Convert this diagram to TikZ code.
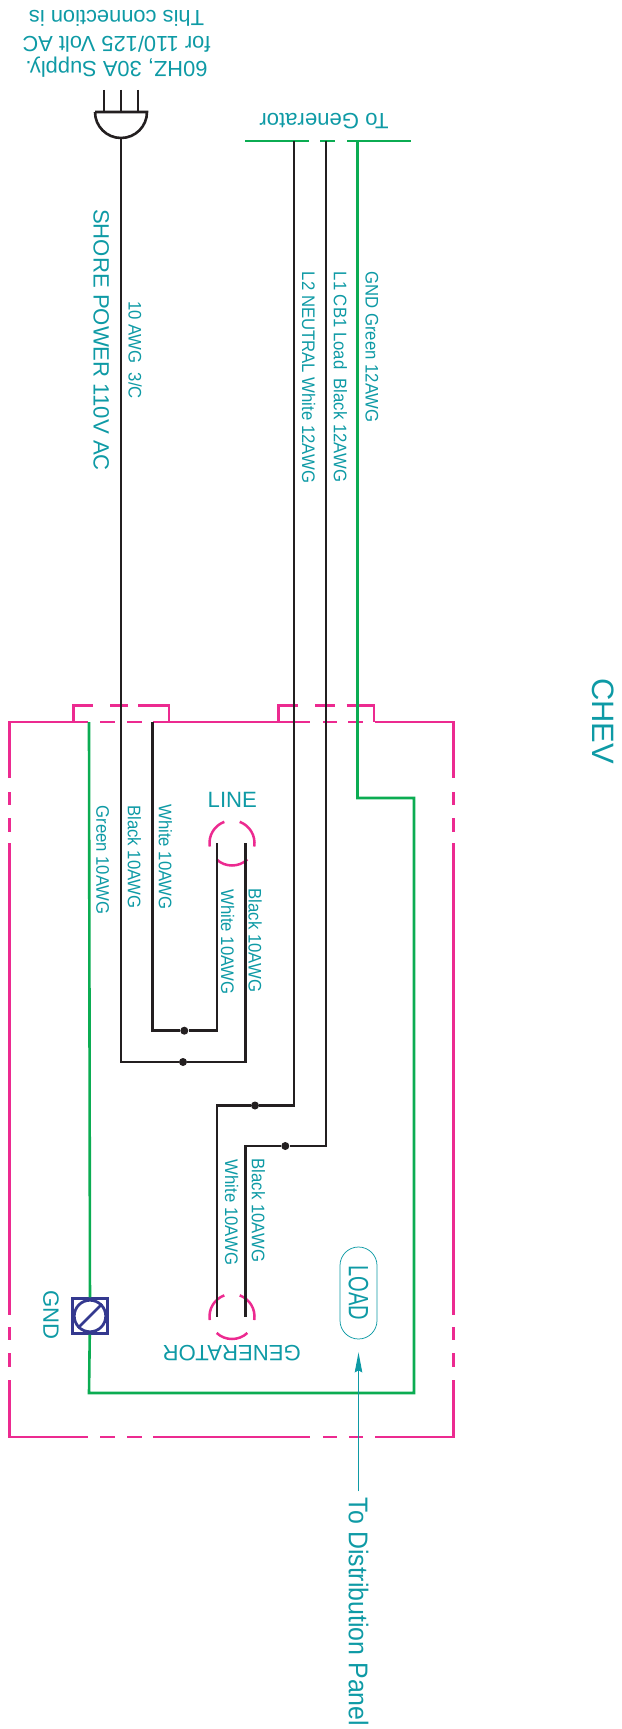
\documentclass[tikz,border=0pt]{standalone}
\usepackage{fontspec}
\setmainfont{Liberation Sans}
\newfontfamily\narrowfont[FakeStretch=0.92]{Liberation Sans}
\newfontfamily\tightfont[FakeStretch=0.72]{Liberation Sans}
\usetikzlibrary{arrows.meta}
\definecolor{wireblack}{HTML}{231F20}
\definecolor{wiregreen}{HTML}{0BAC52}
\definecolor{boxpink}{HTML}{EC2A90}
\definecolor{labelteal}{HTML}{0E9AA5}
\definecolor{screwblue}{HTML}{34398F}
\tikzset{
 blackwire/.style={line width=0.52mm,wireblack},
 greenwire/.style={line width=0.52mm,wiregreen},
 boxline/.style={line width=0.5mm,boxpink},
 joint/.style={circle,fill=wireblack,inner sep=0pt,minimum size=1.6mm},
 biglabel/.style={text=labelteal,inner sep=0pt,font=\fontsize{12.6pt}{14.5pt}\selectfont},
 wirelabel/.style={text=labelteal,inner sep=0pt,rotate=-90,font=\narrowfont\fontsize{10.35pt}{12pt}\selectfont},
}
\begin{document}
\begin{tikzpicture}[x=0.2mm,y=0.2mm,yscale=-1]
 \useasboundingbox (0,0) rectangle (621,1729);
 % shore plug
 \coordinate (plugleft) at (95,112);
 \coordinate (plugright) at (147,112);
 \coordinate (plugtail) at (121,138);
 \draw[blackwire](104,90)--(104,112);
 \draw[blackwire](121,90)--(121,112);
 \draw[blackwire](138,90)--(138,112);
 \draw[blackwire](plugleft)--(plugright) arc (0:180:26);
 % feed from generator
 \coordinate (feedN) at (294,141);
 \coordinate (feedL) at (326,141);
 \coordinate (feedG) at (357.5,141);
 \draw[greenwire](245,141)--(309,141);
 \draw[greenwire](320,141)--(335,141);
 \draw[greenwire](347,141)--(411,141);
 % panel outline
 \draw[boxline](9.5,778)--(9.5,722)--(88,722);
 \draw[boxline](100,722)--(115,722);
 \draw[boxline](127,722)--(142,722);
 \draw[boxline](153,722)--(310,722);
 \draw[boxline](323,722)--(337,722);
 \draw[boxline](348,722)--(363,722);
 \draw[boxline](375,722)--(453.5,722)--(453.5,778);
 \draw[boxline](73.3,722)--(73.3,705.3)--(93.3,705.3);
 \draw[boxline](110,705.3)--(128.3,705.3);
 \draw[boxline](138.3,705.3)--(169,705.3)--(169,722);
 \draw[boxline](278.3,722)--(278.3,705.3)--(298,705.3);
 \draw[boxline](315,705.3)--(335,705.3);
 \draw[boxline](346.7,705.3)--(374,705.3)--(374,722);
 \draw[boxline](9.5,792)--(9.5,805);
 \draw[boxline](9.5,818)--(9.5,832);
 \draw[boxline](9.5,843)--(9.5,1315);
 \draw[boxline](9.5,1327)--(9.5,1340);
 \draw[boxline](9.5,1353)--(9.5,1367);
 \draw[boxline](453.5,792)--(453.5,805);
 \draw[boxline](453.5,818)--(453.5,832);
 \draw[boxline](453.5,843)--(453.5,1315);
 \draw[boxline](453.5,1327)--(453.5,1340);
 \draw[boxline](453.5,1353)--(453.5,1367);
 \draw[boxline](9.5,1380)--(9.5,1437)--(88,1437);
 \draw[boxline](100,1437)--(115,1437);
 \draw[boxline](127,1437)--(142,1437);
 \draw[boxline](153,1437)--(310,1437);
 \draw[boxline](323,1437)--(337,1437);
 \draw[boxline](349,1437)--(363,1437);
 \draw[boxline](375,1437)--(453.5,1437)--(453.5,1380);
 % receptacles
 \coordinate (lineport) at (232,843);
 \coordinate (genport) at (232,1316.5);
 \draw[boxline](lineport) ++(171:22.5) arc (171:250:22.5);
 \draw[boxline](lineport) ++(290:22.5) arc (290:369:22.5);
 \draw[boxline](lineport) ++(47:22.5) arc (47:133:22.5);
 \draw[boxline](genport) ++(171:22.5) arc (171:250:22.5);
 \draw[boxline](genport) ++(290:22.5) arc (290:369:22.5);
 \draw[boxline](genport) ++(47:22.5) arc (47:133:22.5);
 \coordinate (lineW) at (217,843);
 \coordinate (lineB) at (245.7,843);
 \coordinate (genW) at (217,1317);
 \coordinate (genB) at (245.3,1317);
 % wiring
 \node[joint] (jointW) at (184.3,1030.7) {};
 \node[joint] (jointB) at (183,1062) {};
 \node[joint] (jointN) at (255,1105.5) {};
 \node[joint] (jointL) at (285.3,1146) {};
 \coordinate (shoreW) at (152.7,722);
 \draw[blackwire](plugtail)|-(jointB)-|(lineB);
 \draw[blackwire](shoreW)|-(jointW)-|(lineW);
 \draw[blackwire](feedN)|-(jointN)-|(genW);
 \draw[blackwire](feedL)|-(jointL)-|(genB);
 \node[draw=screwblue,line width=0.55mm,fill=white,minimum size=6.9mm,inner sep=0pt] (gndbox) at (90,1316) {};
 \node[draw=screwblue,line width=0.55mm,circle,minimum size=6.3mm,inner sep=0pt] (gndscrew) at (90,1316) {};
 \draw[screwblue,line width=0.5mm](gndscrew.225)--(gndscrew.45);
 \coordinate (entryG) at (89,722);
 \coordinate (lidG) at (414,798);
 \coordinate (baseG) at (89,1393);
 \draw[greenwire](entryG)--(gndbox);
 \draw[greenwire](feedG)|-(lidG)|-(baseG)--(gndbox);
 % labels
 \node[biglabel,rotate=180,align=center,font=\fontsize{12.45pt}{14.5pt}\selectfont] (supply) at (116.5,44) {60HZ, 30A Supply.\\for 110/125 Volt AC\\This connection is};
 \node[biglabel,rotate=180] (togen) at (324,121) {To Generator};
 \node[biglabel,rotate=-90] (shore) at (101.3,340) {SHORE POWER 110V AC};
 \node[wirelabel] (shorecable) at (135,350) {10 AWG\ \ 3/C};
 \node[wirelabel] (neutral) at (308.7,377.5) {L2 NEUTRAL White 12AWG};
 \node[wirelabel] (loadL) at (340.3,377) {L1 CB1 Load\ \ Black 12AWG};
 \node[wirelabel] (groundG) at (372,347) {GND Green 12AWG};
 \node[wirelabel] (green) at (102.7,860) {Green 10AWG};
 \node[wirelabel] (black) at (134.3,857) {Black 10AWG};
 \node[wirelabel] (white) at (165.3,857) {White 10AWG};
 \node[wirelabel] (whiteL) at (227.7,942) {White 10AWG};
 \node[wirelabel] (blackL) at (255,940.5) {Black 10AWG};
 \node[wirelabel] (whiteG) at (231.7,1212.5) {White 10AWG};
 \node[wirelabel] (blackG) at (258.3,1210.5) {Black 10AWG};
 \node[biglabel] (line) at (232.3,800) {LINE};
 \node[biglabel,rotate=180] (generator) at (231.7,1353) {GENERATOR};
 \node[biglabel,rotate=-90] (gnd) at (51,1315) {GND};
 \node[text=labelteal,rotate=-90,inner sep=0pt,font=\fontsize{17.6pt}{20pt}\selectfont] (chev) at (603.3,721) {CHEV};
 \node[draw=labelteal,line width=0.15mm,text=labelteal,rotate=-90,rounded corners=3.7mm,minimum width=18.4mm,minimum height=7.4mm,inner sep=0pt,font=\tightfont\fontsize{15.9pt}{18pt}\selectfont] (load) at (358.5,1293) {LOAD};
 \node[text=labelteal,rotate=-90,inner sep=0pt,font=\narrowfont\fontsize{15.4pt}{18pt}\selectfont] (panel) at (358.5,1612) {To Distribution Panel};
 \draw[labelteal,line width=0.24mm,-{Stealth[length=4mm,width=1.5mm,inset=0.4mm]},shorten >=2.6mm,shorten <=1.2mm](panel)--(load);
\end{tikzpicture}
\end{document}
